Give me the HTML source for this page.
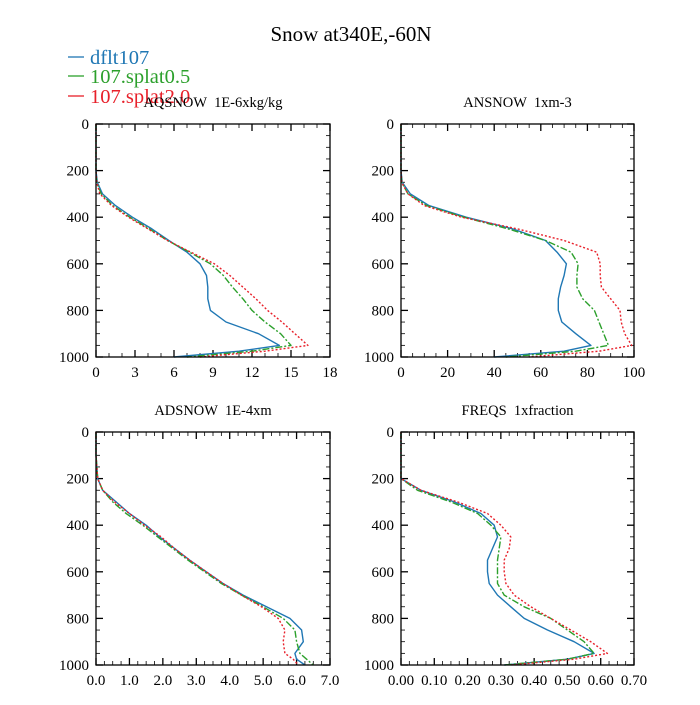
<!DOCTYPE html>
<html><head><meta charset="utf-8"><style>
html,body{margin:0;padding:0;background:#fff;}
svg text{font-family:"Liberation Serif",serif;fill:#000;white-space:pre;}
</style></head><body>
<svg id="chart" width="700" height="700" xmlns="http://www.w3.org/2000/svg" xml:space="preserve">
<text x="351" y="41" font-size="21" text-anchor="middle">Snow at340E,-60N</text>
<g>
<line x1="68" x2="84" y1="57" y2="57" stroke="#1f77b4" stroke-width="1.3"/>
<text x="90" y="64" font-size="20.5" style="fill:#1f77b4">dflt107</text>
<line x1="68" x2="84" y1="76" y2="76" stroke="#2ca02c" stroke-width="1.3"/>
<text x="90" y="83" font-size="20.5" style="fill:#2ca02c">107.splat0.5</text>
<line x1="68" x2="84" y1="96" y2="96" stroke="#e8202a" stroke-width="1.3"/>
<text x="90" y="103" font-size="20.5" style="fill:#e8202a">107.splat2.0</text>
</g>
</svg>
<script>
const levels = [0,100,200,250,300,350,400,450,500,550,600,650,700,750,800,850,900,950,975,1000];
const aqBlue  = [0,0,0,0.1,0.5,1.5,2.8,4.3,5.6,7.0,8.0,8.5,8.6,8.6,8.8,10.0,12.5,14.1,11,6];
const aqGreen = [0,0,0,0.05,0.4,1.3,2.6,4.1,5.5,7.2,8.8,9.8,10.5,11.3,12.0,13.0,14.2,15.0,12,7];
const aqRed   = [0,0,0,0.05,0.3,1.2,2.5,4.0,5.5,7.3,9.1,10.3,11.3,12.3,13.2,14.3,15.3,16.3,13,8];
const anBlue  = [0,0,0,0.5,4,12,28,48,62,67,71,70,68.5,67.5,67.5,69,75,81.5,70,40];
const anGreen = [0,0,0,0.3,3,11,27,46,62,73,76,75.5,75.5,78,83,85,87,89,75,45];
const anRed   = [0,0,0,0.3,3,10,26,50,70,84,85.5,85.5,86,90,94,94.5,96,99,85,55];
const adBlue  = [0,0,0.05,0.2,0.6,1.0,1.5,1.9,2.35,2.8,3.3,3.8,4.4,5.1,5.8,6.15,6.2,5.95,6.0,6.25];
const adGreen = [0,0,0.05,0.2,0.5,0.9,1.4,1.85,2.3,2.75,3.25,3.75,4.35,5.0,5.6,5.95,6.0,6.1,6.3,6.5];
const adRed   = [0,0,0.05,0.2,0.55,1.0,1.45,1.95,2.35,2.8,3.3,3.8,4.35,4.95,5.45,5.65,5.6,5.65,5.9,6.05];
const frBlue  = [0,0,0,0.06,0.16,0.24,0.28,0.29,0.275,0.26,0.26,0.265,0.29,0.33,0.37,0.44,0.52,0.58,0.5,0.31];
const frGreen = [0,0,0,0.05,0.15,0.23,0.27,0.30,0.295,0.29,0.29,0.29,0.31,0.37,0.45,0.50,0.55,0.58,0.5,0.31];
const frRed   = [0,0,0,0.06,0.17,0.26,0.30,0.33,0.325,0.31,0.31,0.315,0.34,0.39,0.45,0.51,0.57,0.62,0.52,0.33];
const yTicks = [0,200,400,600,800,1000];
const aqTicks = ["0","3","6","9","12","15","18"];
const anTicks = ["0","20","40","60","80","100"];
const adTicks = ["0.0","1.0","2.0","3.0","4.0","5.0","6.0","7.0"];
const frTicks = ["0.00","0.10","0.20","0.30","0.40","0.50","0.60","0.70"];

const NS="http://www.w3.org/2000/svg";
const svg=document.getElementById('chart');
function mk(tag,attrs,parent){const e=document.createElementNS(NS,tag);for(const k in attrs)e.setAttribute(k,attrs[k]);(parent||svg).appendChild(e);return e;}

const panels=[
 {name:'aqsnow',title:'AQSNOW  1E-6xkg/kg',x0:96,x1:330,y0:124,y1:357,max:18,ticks:aqTicks,minorPer:3,series:[aqBlue,aqGreen,aqRed]},
 {name:'ansnow',title:'ANSNOW  1xm-3',x0:401,x1:634,y0:124,y1:357,max:100,ticks:anTicks,minorPer:4,series:[anBlue,anGreen,anRed]},
 {name:'adsnow',title:'ADSNOW  1E-4xm',x0:96,x1:330,y0:432,y1:665,max:7,ticks:adTicks,minorPer:4,series:[adBlue,adGreen,adRed]},
 {name:'freqs',title:'FREQS  1xfraction',x0:401,x1:634,y0:432,y1:665,max:0.7,ticks:frTicks,minorPer:4,series:[frBlue,frGreen,frRed]}
];
const colors=['#1f77b4','#2ca02c','#e8202a'];
const dashes=['none','7,2,2,2','2,2'];
const sNames=['dflt107','splat0.5','splat2.0'];

panels.forEach(p=>{
 const g=mk('g',{});
 
 
 const xs=v=>p.x0+(v/p.max)*(p.x1-p.x0);
 const ys=v=>p.y0+(v/1000)*(p.y1-p.y0);
 const t=mk('text',{x:(p.x0+p.x1)/2,y:p.y0-17,'font-size':14.5,'text-anchor':'middle'},g);
 t.textContent=p.title;
 
 
 for(let v=0;v<=1000;v+=50){
  const major=v%200===0; const L=major?7:4;
  mk('line',{x1:p.x0,x2:p.x0+L,y1:ys(v),y2:ys(v),stroke:'#000','stroke-width':major?1.3:0.8},g);
  mk('line',{x1:p.x1,x2:p.x1-L,y1:ys(v),y2:ys(v),stroke:'#000','stroke-width':major?1.3:0.8},g);
 }
 yTicks.forEach(v=>{
  const tl=mk('text',{x:p.x0-7,y:ys(v)+5,'font-size':15,'text-anchor':'end'},g);
  tl.textContent=String(v);
  
  
 });
 const n=p.ticks.length-1; const step=p.max/n;
 for(let i=0;i<=n*p.minorPer;i++){
  const v=i*step/p.minorPer; const major=i%p.minorPer===0; const L=major?7:4;
  mk('line',{x1:xs(v),x2:xs(v),y1:p.y1,y2:p.y1-L,stroke:'#000','stroke-width':major?1.3:0.8},g);
  mk('line',{x1:xs(v),x2:xs(v),y1:p.y0,y2:p.y0+L,stroke:'#000','stroke-width':major?1.3:0.8},g);
 }
 p.ticks.forEach((lab,i)=>{
  const tl=mk('text',{x:xs(i*step),y:p.y1+20,'font-size':15,'text-anchor':'middle'},g);
  tl.textContent=lab;
  
  
 });
 p.series.forEach((arr,si)=>{
  const pts=arr.map((v,i)=>xs(v).toFixed(1)+','+ys(levels[i]).toFixed(1)).join(' ');
  const pl=mk('polyline',{points:pts,fill:'none',stroke:colors[si],'stroke-width':1.4,'stroke-dasharray':dashes[si],'stroke-linejoin':'round'},g);
  
  
 });
 const fr=mk('rect',{x:p.x0,y:p.y0,width:p.x1-p.x0,height:p.y1-p.y0,fill:'none',stroke:'#000','stroke-width':1.3},g);
 
 
});
</script>
</body></html>
